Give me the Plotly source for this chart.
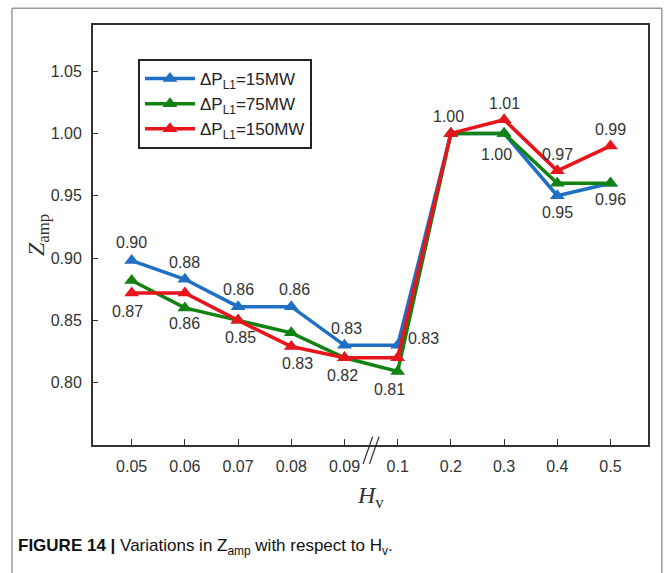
import plotly.graph_objects as go

categories = ["0.05", "0.06", "0.07", "0.08", "0.09", "0.1", "0.2", "0.3", "0.4", "0.5"]
z_15mw = [0.898, 0.883, 0.861, 0.861, 0.830, 0.830, 1.000, 1.000, 0.950, 0.960]
z_75mw = [0.882, 0.860, 0.850, 0.840, 0.820, 0.809, 1.000, 1.000, 0.960, 0.960]
z_150mw = [0.872, 0.872, 0.850, 0.829, 0.820, 0.820, 1.000, 1.011, 0.970, 0.990]
series_names = ["ΔP<sub>L1</sub>=15MW", "ΔP<sub>L1</sub>=75MW", "ΔP<sub>L1</sub>=150MW"]
y_ticks = [0.80, 0.85, 0.90, 0.95, 1.00, 1.05]

# value labels: (category index, series, text, xshift, yshift)
value_labels = [
    (0, "s15", "0.90", 0, 18), (0, "s150", "0.87", -4, -19),
    (1, "s15", "0.88", 0, 17), (1, "s75", "0.86", 0, -16),
    (2, "s15", "0.86", 0, 17), (2, "s75", "0.85", 2, -17),
    (3, "s15", "0.86", 3, 17), (3, "s150", "0.83", 6, -17),
    (4, "s15", "0.83", 2, 17), (4, "s150", "0.82", -2, -18),
    (5, "s75", "0.81", -8, -18), (5, "s15", "0.83", 26, 7),
    (6, "s15", "1.00", -2, 17),
    (7, "s150", "1.01", 0, 16), (7, "s15", "1.00", -8, -21),
    (8, "s150", "0.97", 0, 16), (8, "s15", "0.95", 0, -17),
    (9, "s150", "0.99", 0, 16), (9, "s75", "0.96", 0, -16),
]

colors = ["#1f6fc4", "#128212", "#e8141c"]
data = {"s15": z_15mw, "s75": z_75mw, "s150": z_150mw}
xi = list(range(len(categories)))
sans = "Liberation Sans, Arial"
serif = "Liberation Serif, Times New Roman"

fig = go.Figure()
for key, name, col in zip(["s15", "s75", "s150"], series_names, colors):
    fig.add_trace(go.Scatter(
        x=xi, y=data[key], mode="lines+markers", name=name,
        line=dict(color=col, width=3.5),
        marker=dict(symbol="triangle-up", size=13, color=col),
    ))

for idx, key, txt, xs, ys in value_labels:
    fig.add_annotation(x=idx, y=data[key][idx], text=txt, showarrow=False,
                       xshift=xs, yshift=ys,
                       font=dict(family=sans, size=16, color="#333"))

# axis break marks
for dx in (-0.06, 0.06):
    fig.add_shape(type="line", xref="x", yref="paper",
                  x0=4.5 + dx - 0.09, x1=4.5 + dx + 0.09, y0=-0.045, y1=0.02,
                  line=dict(color="#333", width=1.3))

# axis titles
fig.add_annotation(xref="paper", yref="paper", x=0, y=0.5, xshift=-55,
                   xanchor="center", yanchor="middle",
                   text="<i>Z</i><sub>amp</sub>", textangle=-90, showarrow=False,
                   font=dict(family=serif, size=24, color="#333"))
fig.add_annotation(xref="paper", yref="paper", x=0.5, y=0, yshift=-52,
                   xanchor="center", yanchor="middle",
                   text="<i>H</i><sub>v</sub>", showarrow=False,
                   font=dict(family=serif, size=24, color="#333"))
# caption
fig.add_annotation(xref="paper", yref="paper", x=0, y=0, xshift=-77, yshift=-102,
                   xanchor="left", yanchor="middle",
                   text="<b>FIGURE 14 |</b> Variations in Z<sub>amp</sub> with respect to H<sub>v</sub>.",
                   showarrow=False,
                   font=dict(family=sans, size=17, color="#111"))

# outer frame
for x0, y0, x1, y1 in [(-0.146, 1.04, -0.146, -0.33), (-0.146, 1.04, 1.025, 1.04), (1.025, 1.04, 1.025, -0.33)]:
    fig.add_shape(type="line", xref="paper", yref="paper", x0=x0, y0=y0, x1=x1, y1=y1,
                  line=dict(color="#999", width=1.5))

fig.update_layout(
    width=665, height=573,
    margin=dict(l=93, r=17, t=25, b=128),
    paper_bgcolor="white", plot_bgcolor="white",
    showlegend=True,
    legend=dict(x=0.081, y=0.919, xanchor="left", yanchor="top",
                bordercolor="#222", borderwidth=2, bgcolor="white",
                font=dict(family=sans, size=17, color="#222"),
                tracegroupgap=0, itemwidth=50),
    xaxis=dict(range=[-0.727, 9.705], tickvals=xi, ticktext=categories,
               showgrid=False, zeroline=False, showline=True, mirror=True,
               linecolor="#333", linewidth=2, ticks="inside", ticklen=6,
               tickcolor="#333", tickwidth=1.3, ticklabelstandoff=6,
               tickfont=dict(family=sans, size=16, color="#333")),
    yaxis=dict(range=[0.75, 1.087], tickvals=y_ticks,
               ticktext=[f"{v:.2f}" for v in y_ticks],
               showgrid=False, zeroline=False, showline=True, mirror=True,
               linecolor="#333", linewidth=2, ticks="inside", ticklen=5,
               tickcolor="#333", tickwidth=1.3, ticklabelstandoff=6,
               tickfont=dict(family=sans, size=16, color="#333")),
)

fig.write_html("out.html")
